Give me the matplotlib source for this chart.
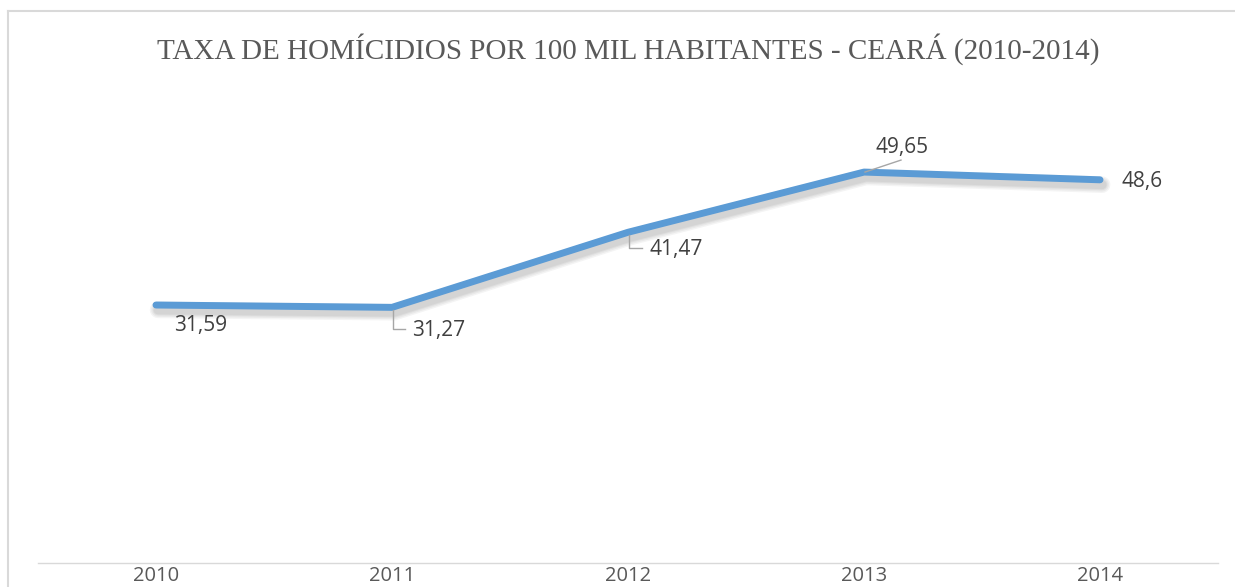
import matplotlib
matplotlib.use('Agg')
import matplotlib.pyplot as plt
import matplotlib.patheffects as pe
from matplotlib.lines import Line2D

years = ['2010', '2011', '2012', '2013', '2014']
rates = [31.59, 31.27, 41.47, 49.65, 48.6]
value_labels = ['31,59', '31,27', '41,47', '49,65', '48,6']
title = 'TAXA DE HOMÍCIDIOS POR 100 MIL HABITANTES - CEARÁ (2010-2014)'

# label placement (image pixel offsets from point: dx right, dy down)
label_off = [(45, 20, 'center'), (20, 23, 'left'), (21, 17, 'left'), (38, -25, 'center'), (22, 2, 'left')]
leaders = [None,
           [(1, 3), (1, 22), (13, 22)],
           [(1, 3), (1, 16), (14, 16)],
           [(1, 0), (37, -12)],
           None]

W, H = 1235, 587
fig = plt.figure(figsize=(W / 100, H / 100), dpi=100)
fig.patch.set_facecolor('white')
ax_bottom_px = 563
ax_top_px = 97
ax = fig.add_axes([38 / W, (H - ax_bottom_px) / H, 1180 / W, (ax_bottom_px - ax_top_px) / H])
ax.set_xlim(-0.5, 4.5)
ax.set_ylim(-3.46, 59.85)
ax.patch.set_alpha(0)

xs = list(range(len(years)))
shadow = [pe.SimpleLineShadow(offset=(1.5, -3.5), shadow_color='black', alpha=0.045, linewidth=lw)
          for lw in (12, 10, 8, 6.5)]
ax.plot(xs, rates, color='#5b9bd5', linewidth=5.0, solid_capstyle='round', solid_joinstyle='round',
        path_effects=shadow + [pe.Normal()], zorder=3)

ax.set_xticks(xs)
ax.set_xticklabels(years, fontsize=14.5, color='#595959', family='Open Sans')
ax.tick_params(axis='x', length=0, pad=2)
ax.set_yticks([])
for s in ('left', 'right', 'top'):
    ax.spines[s].set_visible(False)
ax.spines['bottom'].set_color('#d9d9d9')
ax.spines['bottom'].set_linewidth(1.0)

fig.canvas.draw()
for i, (xv, yv) in enumerate(zip(xs, rates)):
    px, py = ax.transData.transform((xv, yv))
    dx, dy, ha = label_off[i]
    fig.text((px + dx) / W, (py - dy) / H, value_labels[i], ha=ha, va='center',
             fontsize=15, color='#404040', family='Open Sans', zorder=5)
    if leaders[i]:
        lx = [(px + a) / W for a, b in leaders[i]]
        ly = [(py - b) / H for a, b in leaders[i]]
        fig.add_artist(Line2D(lx, ly, color='#a6a6a6', linewidth=1.0, zorder=4))

fig.text(628 / W, (H - 49) / H, title, ha='center', va='center', fontsize=21,
         color='#595959', family='Liberation Serif')

# chart frame
fig.add_artist(Line2D([8 / W, 8 / W], [0, (H - 11) / H], color='#d9d9d9', linewidth=1.5))
fig.add_artist(Line2D([8 / W, 1], [(H - 11) / H, (H - 11) / H], color='#d9d9d9', linewidth=1.5))

fig.savefig('out.png', dpi=100, facecolor='white')
